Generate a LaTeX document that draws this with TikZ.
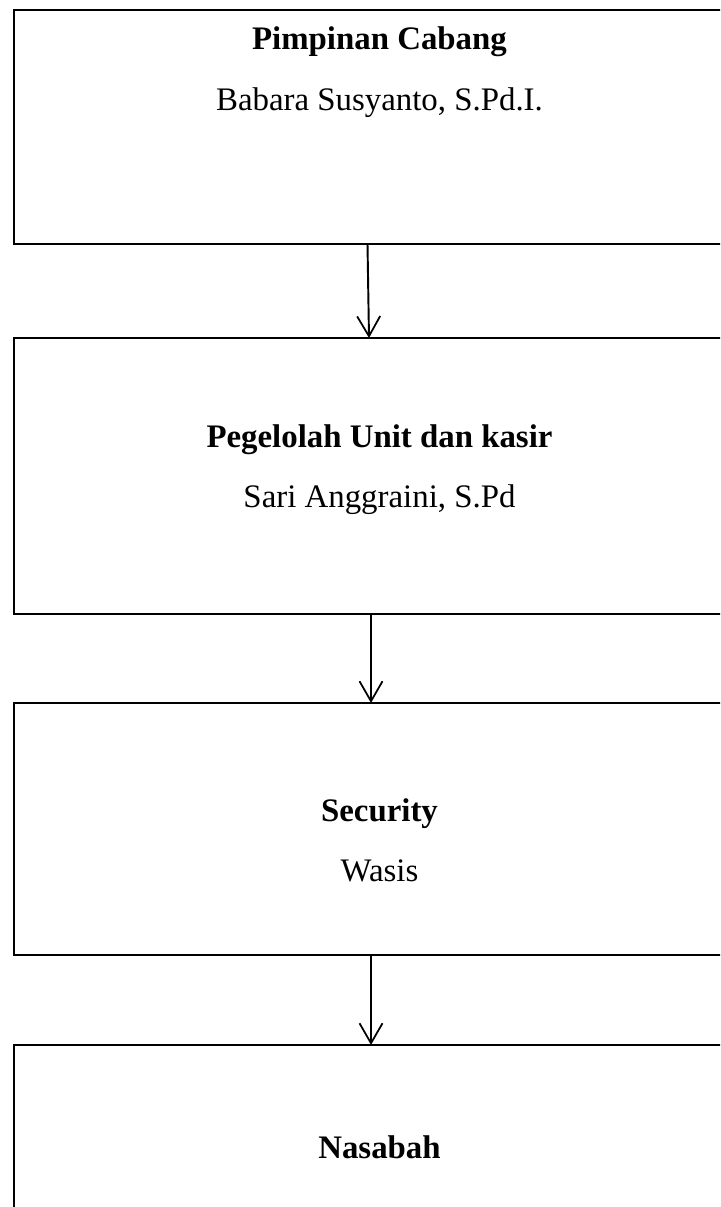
\documentclass[tikz,border=0pt]{standalone}
\usepackage{fontspec}
\setmainfont{Liberation Serif}
\usetikzlibrary{arrows.meta}
\tikzset{
kotak/.style={draw, line width=0.8pt, inner sep=0pt, outer sep=0pt, minimum width=14.62cm, anchor=north west},
judul/.style={font=\fontsize{18.7}{22}\selectfont\bfseries},
nama/.style={font=\fontsize{18.7}{22}\selectfont},
panah/.style={line width=1.1pt, -{Straight Barb[length=4mm,width=4.6mm,line width=1pt]}}
}
\begin{document}
\begin{tikzpicture}
\useasboundingbox (0,0) rectangle (14.4,-24.14);
\clip (0,0) rectangle (14.4,-24.14);
% kotak
\node[kotak, minimum height=4.68cm] (pc) at (0.28,-0.2) {};
\node[kotak, minimum height=5.52cm] (pu) at (0.28,-6.76) {};
\node[kotak, minimum height=5.04cm] (sc) at (0.28,-14.06) {};
\node[kotak, minimum height=4.6cm] (ns) at (0.28,-20.9) {};

% teks
\node[judul] (pc-t) at (7.59,-0.84) {Pimpinan Cabang};
\node[nama] (pc-n) at (7.59,-2.06) {Babara Susyanto, S.Pd.I.};
\node[judul] (pu-t) at (7.59,-8.8) {Pegelolah Unit dan kasir};
\node[nama] (pu-n) at (7.59,-10.0) {Sari Anggraini, S.Pd};
\node[judul] (sc-t) at (7.59,-16.28) {Security};
\node[nama] (sc-n) at (7.59,-17.42) {Wasis};
\node[judul] (ns-t) at (7.59,-22.94) {Nasabah};

% panah
\draw[panah] ([xshift=-0.24cm]pc.south) -- ([xshift=-0.21cm]pu.north);
\draw[panah] ([xshift=-0.17cm]pu.south) -- ([xshift=-0.17cm]sc.north);
\draw[panah] ([xshift=-0.17cm]sc.south) -- ([xshift=-0.17cm]ns.north);
\end{tikzpicture}
\end{document}
